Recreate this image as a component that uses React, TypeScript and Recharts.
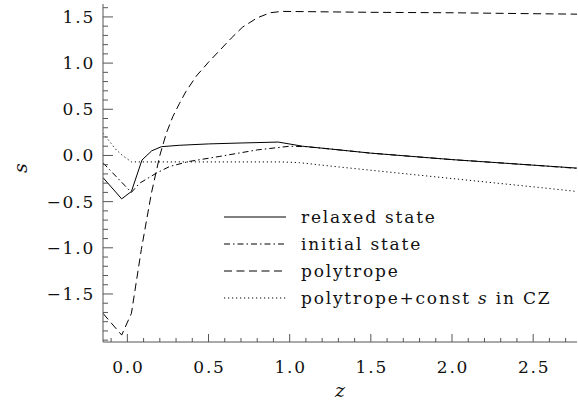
import React from "react";
import { LineChart, Line, XAxis, YAxis } from "recharts";

// s(z) profiles
const relaxedZ = [-0.15, -0.035, 0.025, 0.09, 0.15, 0.21, 0.32, 0.5, 0.7, 0.93, 1.08, 1.25, 1.5, 2.0, 2.5, 2.77];
const relaxedS = [-0.24, -0.47, -0.39, -0.05, 0.05, 0.095, 0.11, 0.125, 0.135, 0.145, 0.1, 0.07, 0.025, -0.045, -0.105, -0.137];

const initialZ = [-0.15, 0.025, 0.076, 0.18, 0.26, 0.38, 0.57, 0.8, 1.0, 1.1, 1.25, 1.5, 2.0, 2.5, 2.77];
const initialS = [-0.08, -0.4, -0.3, -0.19, -0.12, -0.065, -0.01, 0.06, 0.1, 0.095, 0.07, 0.025, -0.045, -0.105, -0.14];

const polyZ = [-0.15, -0.035, 0.025, 0.086, 0.148, 0.2, 0.24, 0.28, 0.32, 0.36, 0.425, 0.5, 0.57, 0.64, 0.71, 0.8, 0.88, 0.95, 1.5, 2.0, 2.5, 2.77];
const polyS = [-1.71, -1.945, -1.71, -1.02, -0.41, 0.0, 0.24, 0.42, 0.56, 0.69, 0.86, 1.01, 1.14, 1.27, 1.39, 1.49, 1.545, 1.56, 1.55, 1.545, 1.535, 1.53];

const polyCzZ = [-0.15, -0.1, -0.068, -0.03, 0.025, 0.5, 0.95, 1.06, 1.25, 1.5, 2.0, 2.5, 2.77];
const polyCzS = [0.24, 0.13, 0.06, 0.0, -0.07, -0.07, -0.07, -0.078, -0.115, -0.16, -0.25, -0.34, -0.39];

const xTicks = [-0.1, 0, 0.1, 0.2, 0.3, 0.4, 0.5, 0.6, 0.7, 0.8, 0.9, 1, 1.1, 1.2, 1.3, 1.4, 1.5, 1.6, 1.7, 1.8, 1.9, 2, 2.1, 2.2, 2.3, 2.4, 2.5, 2.6, 2.7];
const yTicks = [
  -2, -1.9, -1.8, -1.7, -1.6, -1.5, -1.4, -1.3, -1.2, -1.1, -1, -0.9, -0.8, -0.7, -0.6, -0.5, -0.4, -0.3, -0.2, -0.1,
  0, 0.1, 0.2, 0.3, 0.4, 0.5, 0.6, 0.7, 0.8, 0.9, 1, 1.1, 1.2, 1.3, 1.4, 1.5, 1.6,
];
const xLabels = [0, 0.5, 1, 1.5, 2, 2.5];
const yLabels = [-1.5, -1, -0.5, 0, 0.5, 1, 1.5];

const pts = (zs: number[], ss: number[]) => zs.map((z, i) => ({ z, s: ss[i] }));

const series = [
  { name: "relaxed state", data: pts(relaxedZ, relaxedS), dash: undefined },
  { name: "initial state", data: pts(initialZ, initialS), dash: "6 3 1.5 3" },
  { name: "polytrope", data: pts(polyZ, polyS), dash: "8 4.5" },
  { name: "polytrope+const", data: pts(polyCzZ, polyCzS), dash: "1.2 2.8" },
];

const AXIS = "#555";
const FONT = "'DejaVu Serif', serif";

const isLabel = (list: number[], v: number) => list.some((l) => Math.abs(l - v) < 1e-6);
const fmt = (v: number) => (v < 0 ? "\u2212" : "") + Math.abs(v).toFixed(1);

const tickText = { fontFamily: FONT, fontSize: 17, fill: "#111", letterSpacing: 1.8 };

const BottomTick = (p: any) => {
  const major = isLabel(xLabels, p.payload.value);
  return (
    <g>
      <line x1={p.x} x2={p.x} y1={p.y} y2={p.y - (major ? 8 : 4)} stroke={AXIS} />
      {major && (
        <text x={p.x + 1} y={p.y + 31} textAnchor="middle" {...tickText}>
          {fmt(p.payload.value)}
        </text>
      )}
    </g>
  );
};

const TopTick = (p: any) => {
  const major = isLabel(xLabels, p.payload.value);
  return <line x1={p.x} x2={p.x} y1={p.y} y2={p.y + (major ? 8 : 4)} stroke={AXIS} />;
};

const LeftTick = (p: any) => {
  const major = isLabel(yLabels, p.payload.value);
  return (
    <g>
      <line x1={p.x} x2={p.x + (major ? 10 : 5)} y1={p.y} y2={p.y} stroke={AXIS} />
      {major && (
        <text x={p.x - 8} y={p.y + 6} textAnchor="end" {...tickText}>
          {fmt(p.payload.value)}
        </text>
      )}
    </g>
  );
};

const RightTick = (p: any) => {
  const major = isLabel(yLabels, p.payload.value);
  return <line x1={p.x} x2={p.x - (major ? 10 : 5)} y1={p.y} y2={p.y} stroke={AXIS} />;
};

const LegendBox = () => (
  <div
    style={{
      position: "absolute",
      left: 222,
      top: 203,
      fontFamily: FONT,
      fontSize: 17,
      letterSpacing: 1.8,
      color: "#111",
    }}
  >
    {series.map((s) => (
      <div key={s.name} style={{ display: "flex", alignItems: "center", height: 27, whiteSpace: "nowrap" }}>
        <svg width={64} height={10} style={{ marginRight: 15 }}>
          <line x1={2} x2={64} y1={5} y2={5} stroke="#000" strokeDasharray={s.dash} />
        </svg>
        <span>
          {s.name === "polytrope+const" ? (
            <>
              polytrope+const <i>s</i> in CZ
            </>
          ) : (
            s.name
          )}
        </span>
      </div>
    ))}
  </div>
);

export default function App() {
  return (
    <div style={{ position: "absolute", left: 0, top: 0, width: 578, height: 407, background: "#fff" }}>
      <LineChart width={578} height={407} margin={{ top: 4, right: 1, bottom: 0, left: 0 }}>
        <XAxis
          xAxisId="b"
          type="number"
          dataKey="z"
          domain={[-0.15, 2.77]}
          allowDataOverflow
          ticks={xTicks}
          interval={0}
          tickSize={0}
          tickMargin={0}
          tickLine={false}
          tick={<BottomTick />}
          height={65}
          axisLine={{ stroke: AXIS }}
          label={{
            value: "z",
            position: "insideBottom",
            offset: 10,
            style: { fontFamily: FONT, fontStyle: "italic", fontSize: 19, fill: "#111" },
          }}
        />
        <XAxis
          xAxisId="t"
          orientation="top"
          type="number"
          domain={[-0.15, 2.77]}
          allowDataOverflow
          ticks={xTicks}
          interval={0}
          tickSize={0}
          tickMargin={0}
          tickLine={false}
          tick={<TopTick />}
          height={0}
          axisLine={{ stroke: AXIS }}
        />
        <YAxis
          yAxisId="l"
          type="number"
          domain={[-2.02, 1.64]}
          allowDataOverflow
          ticks={yTicks}
          interval={0}
          tickSize={0}
          tickMargin={0}
          tickLine={false}
          tick={<LeftTick />}
          width={103}
          axisLine={{ stroke: AXIS }}
          label={{
            value: "s",
            angle: -90,
            position: "insideLeft",
            offset: 20,
            style: { fontFamily: FONT, fontStyle: "italic", fontSize: 19, fill: "#111" },
          }}
        />
        <YAxis
          yAxisId="r"
          orientation="right"
          type="number"
          domain={[-2.02, 1.64]}
          allowDataOverflow
          ticks={yTicks}
          interval={0}
          tickSize={0}
          tickMargin={0}
          tickLine={false}
          tick={<RightTick />}
          width={0}
          axisLine={{ stroke: AXIS }}
        />
        {series.map((s) => (
          <Line
            key={s.name}
            xAxisId="b"
            yAxisId="l"
            data={s.data}
            dataKey="s"
            type="linear"
            stroke="#000"
            strokeWidth={1}
            strokeDasharray={s.dash}
            dot={false}
            activeDot={false}
            isAnimationActive={false}
          />
        ))}
      </LineChart>
      <LegendBox />
    </div>
  );
}
